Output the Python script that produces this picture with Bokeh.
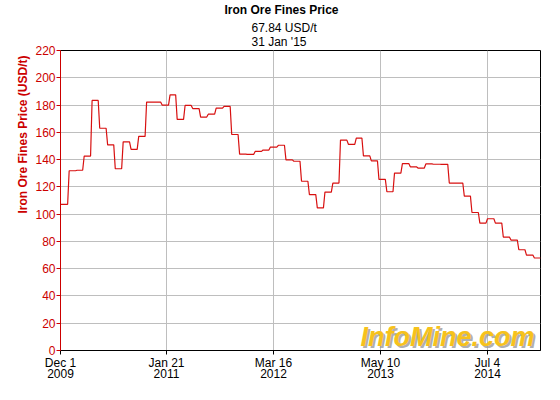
import pandas as pd
from bokeh.plotting import figure
from bokeh.models import Label, FixedTicker, Range1d, Title
from bokeh.embed import file_html
from bokeh.resources import INLINE

# ---- data ----
start_month = "2009-12-01"
prices = [
    107.2,                                                                     # Dec 2009
    131.8, 132.2, 142.6, 183.4, 163.0, 150.8, 133.3, 153.0, 147.5, 157.0, 182.2, 182.2,  # 2010
    180.0, 187.5, 169.5, 179.7, 177.4, 171.2, 173.3, 177.7, 179.0, 158.4, 144.0, 143.8,  # 2011
    146.0, 147.0, 149.2, 150.5, 139.8, 138.8, 124.1, 114.3, 104.6, 116.2, 122.8, 154.3,  # 2012
    151.2, 155.8, 142.7, 139.1, 125.5, 116.4, 130.1, 137.1, 134.7, 133.8, 136.8, 136.6,  # 2013
    136.5, 122.8, 122.8, 113.2, 101.2, 93.4, 96.6, 93.4, 83.2, 81.0, 73.9, 70.0,         # 2014
    67.84,                                                                     # Jan 2015
]
x_end_date = "2015-01-28"
tick_dates = ["2009-12-01", "2011-01-21", "2012-03-16", "2013-05-10", "2014-07-04"]
tick_labels = ["Dec 1\n2009", "Jan 21\n2011", "Mar 16\n2012", "May 10\n2013", "Jul 4\n2014"]
y_ticks = [0, 20, 40, 60, 80, 100, 120, 140, 160, 180, 200, 220]
title_main = "Iron Ore Fines Price"
title_sub = ["67.84 USD/t", "31 Jan '15"]
y_label = "Iron Ore Fines Price (USD/t)"
watermark = "InfoMine.com"

FONT = "Liberation Sans"
RED = "#CC0000"
LINE_RED = "#D81010"

origin = pd.Timestamp(start_month)
month_starts = pd.date_range(start_month, periods=len(prices) + 1, freq="MS")
month_days = [(m - origin).days for m in month_starts]
x_end = (pd.Timestamp(x_end_date) - origin).days
tick_days = [(pd.Timestamp(d) - origin).days for d in tick_dates]

# monthly values drawn as flat runs with short ramps between months
xs, ys = [], []
ramp = 3
for i, v in enumerate(prices):
    s, e = month_days[i], month_days[i + 1]
    xs += [s if i == 0 else s + ramp, e - ramp]
    ys += [v, v]

p = figure(width=560, height=400, output_backend="svg", toolbar_location=None,
           x_range=Range1d(0, x_end), y_range=Range1d(0, 220),
           min_border_left=60, min_border_right=20, min_border_top=50, min_border_bottom=50)
p.title.visible = False
p.background_fill_color = "white"
p.border_fill_color = "white"
p.outline_line_color = "black"
p.outline_line_width = 1

p.line(xs, ys, line_color=LINE_RED, line_width=1.2)

# x axis
xa = p.xaxis[0]
xa.ticker = FixedTicker(ticks=tick_days)
xa.major_label_overrides = {d: l for d, l in zip(tick_days, tick_labels)}
xa.major_label_text_font = FONT
xa.major_label_text_font_size = "12px"
xa.major_label_text_line_height = 0.85
xa.major_label_text_color = "black"
xa.axis_line_color = "black"
xa.major_tick_line_color = "black"
xa.major_tick_in = 0
xa.major_tick_out = 4
xa.minor_tick_line_color = None
xa.major_label_standoff = 1

# y axis
ya = p.yaxis[0]
ya.ticker = FixedTicker(ticks=y_ticks)
ya.major_label_text_font = FONT
ya.major_label_text_font_size = "12px"
ya.major_label_text_color = RED
ya.axis_line_color = RED
ya.major_tick_line_color = RED
ya.major_tick_in = 0
ya.major_tick_out = 4
ya.minor_tick_line_color = None
ya.major_label_standoff = 1

# y axis title, placed near the top end of the axis
p.add_layout(Title(text=y_label, align="right", offset=5, standoff=5,
                   text_font=FONT, text_font_size="12px", text_font_style="bold",
                   text_color=RED), "left")

p.xgrid.grid_line_color = "#BEBEBE"
p.ygrid.grid_line_color = "#BEBEBE"
p.xgrid.ticker = FixedTicker(ticks=tick_days)
p.ygrid.ticker = FixedTicker(ticks=y_ticks)

# titles above the frame, shifted left to centre on the whole chart
p.add_layout(Title(text="\n".join(title_sub), align="left", offset=191, standoff=4,
                   text_line_height=1.0, text_font=FONT, text_font_size="12px",
                   text_font_style="normal", text_color="black"), "above")
p.add_layout(Title(text=title_main, align="left", offset=164, standoff=0,
                   text_font=FONT, text_font_size="12px",
                   text_font_style="bold", text_color="black"), "above")

# watermark with shadow
p.add_layout(Label(x=476, y=12, x_units="screen", y_units="screen", text=watermark,
                   text_align="right", text_baseline="middle",
                   text_font=FONT, text_font_size="27px", text_font_style="bold italic",
                   text_color="#9A9A9A", text_alpha=0.8))
p.add_layout(Label(x=474, y=14, x_units="screen", y_units="screen", text=watermark,
                   text_align="right", text_baseline="middle",
                   text_font=FONT, text_font_size="27px", text_font_style="bold italic",
                   text_color="#F6C21C"))

open("out.html", "w").write(file_html(p, INLINE))
